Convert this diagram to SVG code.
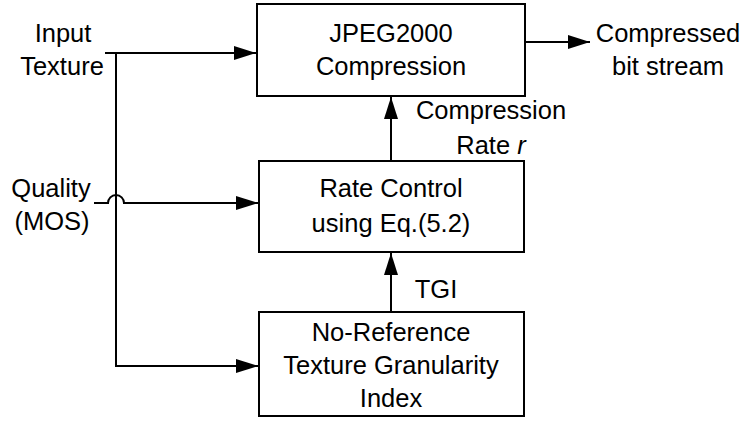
<svg xmlns="http://www.w3.org/2000/svg" width="742" height="421" viewBox="0 0 742 421">
<style>
.box{fill:#fff;stroke:#000;stroke-width:2}
.ln{fill:none;stroke:#000;stroke-width:2}
text{font-family:"Liberation Sans",Arial,sans-serif;font-size:25.5px;fill:#000;text-anchor:middle}
</style>
<defs>
<marker id="ah" markerUnits="userSpaceOnUse" markerWidth="23" markerHeight="14" refX="22" refY="7" orient="auto">
<path d="M0,0 L22,7 L0,14 Z" fill="#000"/>
</marker>
</defs>
<rect width="742" height="421" fill="#fff"/>
<g id="connectors">
<path class="ln" d="M105,53 H256" marker-end="url(#ah)"/>
<path class="ln" d="M116,53 V366 H258" marker-end="url(#ah)"/>
<path class="ln" d="M94,203 H108 A8,8 0 0 1 124,203 H258" marker-end="url(#ah)"/>
<path class="ln" d="M525,42 H590" marker-end="url(#ah)"/>
<path class="ln" d="M391,161 V97" marker-end="url(#ah)"/>
<path class="ln" d="M391,312 V253" marker-end="url(#ah)"/>
</g>
<g id="jpeg2000">
<rect class="box" x="257" y="4" width="268" height="92"/>
<text x="391" y="42">JPEG2000</text>
<text x="391" y="75">Compression</text>
</g>
<g id="ratecontrol">
<rect class="box" x="259" y="161" width="265" height="91"/>
<text x="391" y="197">Rate Control</text>
<text x="391" y="232">using Eq.(5.2)</text>
</g>
<g id="tgi">
<rect class="box" x="259" y="312" width="265" height="104"/>
<text x="391" y="341">No-Reference</text>
<text x="391" y="374">Texture Granularity</text>
<text x="391" y="407">Index</text>
</g>
<g id="labels">
<text x="63" y="42">Input</text>
<text x="62" y="75">Texture</text>
<text x="51" y="197">Quality</text>
<text x="52" y="230">(MOS)</text>
<text x="668" y="42">Compressed</text>
<text x="668" y="75">bit stream</text>
<text x="491" y="119">Compression</text>
<text x="491" y="154">Rate <tspan font-style="italic">r</tspan></text>
<text x="436" y="298">TGI</text>
</g>
</svg>
